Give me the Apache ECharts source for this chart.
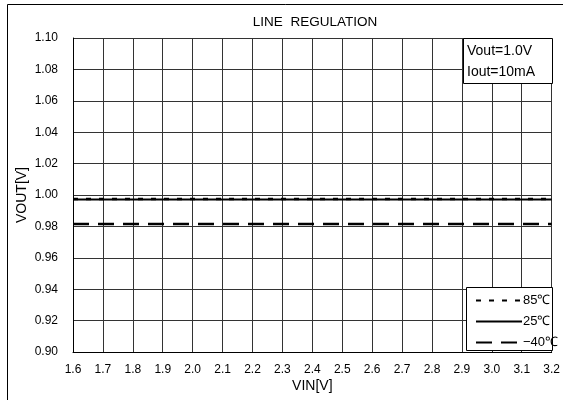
<!DOCTYPE html>
<html><head><meta charset="utf-8">
<script src="https://cdn.jsdelivr.net/npm/echarts@6/dist/echarts.min.js"></script>
<style>html,body{margin:0;padding:0;background:#fff}#c{width:563px;height:400px}</style>
</head><body><div id="c"></div>
<script>
const vin = [1.6,1.7,1.8,1.9,2.0,2.1,2.2,2.3,2.4,2.5,2.6,2.7,2.8,2.9,3.0,3.1,3.2];
const vout85 = [0.9974,0.9974,0.9974,0.9974,0.9974,0.9974,0.9974,0.9974,0.9974,0.9974,0.9974,0.9974,0.9974,0.9974,0.9974,0.9974,0.9974];
const vout25 = [0.9972,0.9972,0.9972,0.9972,0.9972,0.9972,0.9972,0.9972,0.9972,0.9972,0.9972,0.9972,0.9972,0.9972,0.9972,0.9972,0.9972];
const voutM40 = [0.9815,0.9815,0.9815,0.9815,0.9815,0.9815,0.9815,0.9815,0.9815,0.9815,0.9815,0.9815,0.9815,0.9815,0.9815,0.9815,0.9815];
const seriesNames = ['85℃','25℃','−40℃'];
const title = 'LINE  REGULATION';
const note = ['Vout=1.0V','Iout=10mA'];
const FONT = 'Liberation Sans, Arial, sans-serif';
const pair = a => vin.map((x,i)=>[x,a[i]]);
const chart = echarts.init(document.getElementById('c'), null, {renderer:'canvas'});
chart.setOption({
  animation:false,
  backgroundColor:'#fff',
  title:{text:title,left:310,top:10,textAlign:'center',textStyle:{fontFamily:FONT,fontSize:13.5,fontWeight:'normal',color:'#000'}},
  grid:{left:73,right:10,top:38,bottom:48,containLabel:false},
  xAxis:{type:'value',min:1.6,max:3.2,interval:0.1,
    name:'VIN[V]',nameLocation:'middle',nameGap:27,nameMoveOverlap:false,
    nameTextStyle:{fontFamily:FONT,fontSize:14,color:'#000'},
    axisLine:{show:true,lineStyle:{color:'#000',width:1}},axisTick:{show:false},
    axisLabel:{margin:12,fontFamily:FONT,fontSize:12,color:'#000',formatter:v=>v.toFixed(1)},
    splitLine:{show:true,lineStyle:{color:'#333',width:1}}},
  yAxis:{type:'value',min:0.9,max:1.1,interval:0.02,
    name:'VOUT[V]',nameLocation:'middle',nameGap:44,nameRotate:90,nameMoveOverlap:false,
    nameTextStyle:{fontFamily:FONT,fontSize:14,color:'#000'},
    axisLine:{show:true,lineStyle:{color:'#000',width:1}},axisTick:{show:false},
    axisLabel:{margin:15,fontFamily:FONT,fontSize:12,color:'#000',formatter:v=>v.toFixed(2)},
    splitLine:{show:true,lineStyle:{color:'#333',width:1}}},
  legend:{orient:'vertical',left:470,top:289,itemWidth:46,itemHeight:12,itemGap:8,z:10,
    data:seriesNames,itemStyle:{opacity:0},
    textStyle:{fontFamily:FONT,fontSize:13,color:'#000',padding:[0,0,0,-4]}},
  series:[
    {name:seriesNames[0],type:'line',data:pair(vout85),symbol:'none',showSymbol:false,z:3,
      lineStyle:{color:'#000',width:2.5,type:[5,8]},itemStyle:{color:'#000'}},
    {name:seriesNames[1],type:'line',data:pair(vout25),symbol:'none',showSymbol:false,z:2,
      lineStyle:{color:'#000',width:2,type:'solid'},itemStyle:{color:'#000'}},
    {name:seriesNames[2],type:'line',data:pair(voutM40),symbol:'none',showSymbol:false,z:2,
      lineStyle:{color:'#000',width:2.5,type:[16,9]},itemStyle:{color:'#000'}}
  ],
  graphic:[
    {type:'rect',shape:{x:7.5,y:4.5,width:600,height:420},style:{fill:'none',stroke:'#000',lineWidth:1},z:100},
    {type:'rect',shape:{x:463.5,y:38.5,width:89,height:45},style:{fill:'#fff',stroke:'#000',lineWidth:1},z:100},
    {type:'text',x:467,y:44,style:{text:note[0],font:'14px '+FONT,fill:'#000'},z:101},
    {type:'text',x:467,y:65,style:{text:note[1],font:'14px '+FONT,fill:'#000'},z:101},
    {type:'rect',shape:{x:466.5,y:287.5,width:86,height:63},style:{fill:'#fff',stroke:'#000',lineWidth:1},z:5}
  ]
});
</script></body></html>
